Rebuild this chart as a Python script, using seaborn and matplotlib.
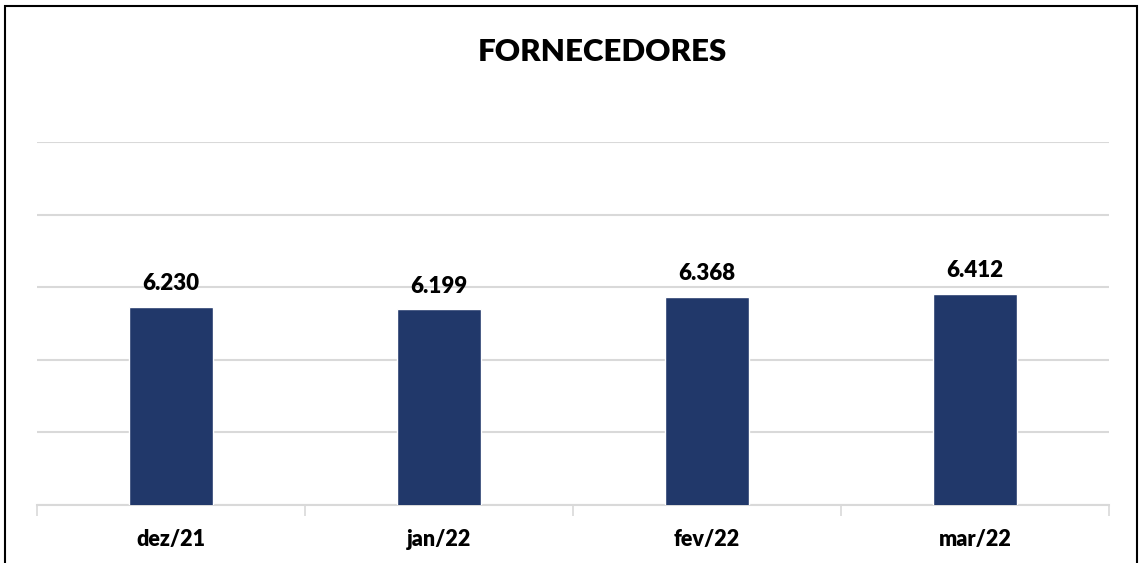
import pandas as pd
import matplotlib.pyplot as plt
import seaborn as sns
from matplotlib.patches import Rectangle

# dados
meses = ["dez/21", "jan/22", "fev/22", "mar/22"]
fornecedores = [6230, 6199, 6368, 6412]
rotulos = ["6.230", "6.199", "6.368", "6.412"]

df = pd.DataFrame({"mes": meses, "valor": fornecedores})

sns.set_style("white")
plt.rcParams["font.family"] = ["Lato", "DejaVu Sans"]
plt.rcParams["text.color"] = "black"
plt.rcParams["xtick.labelcolor"] = "black"

fig = plt.figure(figsize=(11.4, 5.63), dpi=100)
ax = fig.add_axes([37 / 1140, 1 - 505 / 563, (1109 - 37) / 1140, (505 - 142) / 563])

sns.barplot(x="mes", y="valor", data=df, color="#21386A", width=0.31, saturation=1, ax=ax, zorder=3)

ax.set_ylim(3500, 8500)
ax.set_xlim(-0.5, 3.5)
ax.set_yticks(range(3500, 8501, 1000))
ax.yaxis.grid(True, color="#D9D9D9", linewidth=1.5, zorder=0)
ax.tick_params(axis="y", left=False, labelleft=False)
for s in ["top", "right", "left"]:
    ax.spines[s].set_visible(False)
ax.spines["bottom"].set_color("#D9D9D9")
ax.spines["bottom"].set_linewidth(1.5)

# marcas entre categorias
ax.set_xticks([-0.5, 0.5, 1.5, 2.5, 3.5], minor=True)
ax.tick_params(axis="x", which="minor", bottom=True, length=8, width=1.2, color="#D9D9D9")
ax.tick_params(axis="x", which="major", bottom=False, pad=14, labelsize=15.5, labelcolor="black")
for lbl in ax.get_xticklabels():
    lbl.set_fontweight("heavy")
ax.set_xlabel("")
ax.set_ylabel("")

for i, (v, t) in enumerate(zip(fornecedores, rotulos)):
    ax.annotate(t, (i, v), xytext=(0, 9), textcoords="offset points",
                ha="center", va="bottom", fontsize=16, fontweight="heavy", color="black")

fig.text(0.528, 1 - 52 / 563, "FORNECEDORES", ha="center", va="center",
         fontsize=22.5, fontweight="heavy", color="black")

# moldura
fig.patches.append(Rectangle((5 / 1140, -0.02), (1137 - 5) / 1140, 1 - 6 / 563 + 0.02,
                             transform=fig.transFigure, fill=False, edgecolor="black", linewidth=1.5))

fig.savefig("out.png", dpi=100)
